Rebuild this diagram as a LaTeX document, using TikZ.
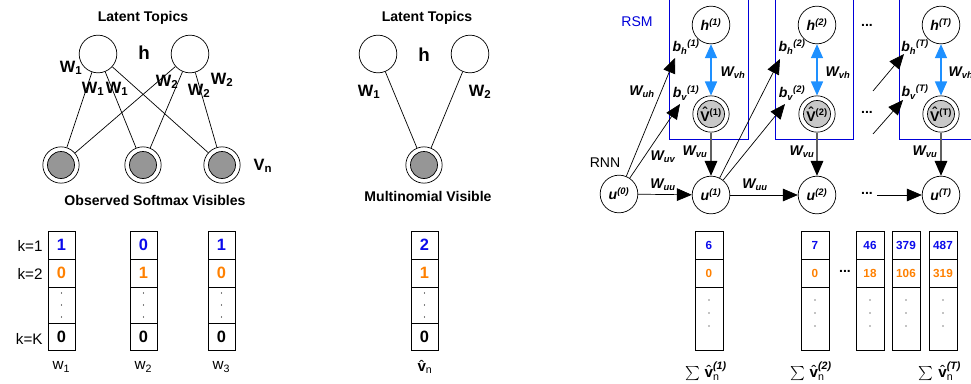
\documentclass[tikz,border=0pt]{standalone}
\usepackage{amsmath}
\usepackage{fontspec}
\setmainfont{Liberation Sans}
\usetikzlibrary{arrows.meta}
\tikzset{>={Triangle[length=4.5mm,width=3.8mm]}}
\definecolor{VisGray}{RGB}{150,150,150}
\definecolor{LightGray}{RGB}{200,200,200}
\definecolor{ArrBlue}{RGB}{30,144,255}
\definecolor{DigOrange}{RGB}{255,128,0}
\definecolor{DigBlue}{RGB}{10,10,235}
\newcommand{\sps}[1]{\textsuperscript{(#1)}}
\newcommand{\Wi}[1]{\textit{W}\textsubscript{\textit{#1}}}
\newcommand{\hatover}[2][0pt]{\setbox0\hbox{#2}\leavevmode\rlap{\hbox to\wd0{\hss\raisebox{#1}{\char"02C6}\hss}}\box0}
\newcommand{\vhat}{\hatover[0.26em]{V}}
\newcommand{\sumv}[1]{$\sum\,\text{\hatover[0.05em]{\bfseries v}}_{\text{n}}^{\text{\bfseries\itshape (#1)}}$}
\tikzset{
  hid/.style={circle,draw,minimum size=11.3mm,inner sep=0pt,line width=0.6pt},
  vis/.style={circle,draw,minimum size=10.9mm,inner sep=0pt,line width=0.6pt,
    path picture={\draw[fill=#1,line width=0.6pt] (path picture bounding box.center) circle (4.05mm);}},
  vis/.default=VisGray,
  rnode/.style={font=\bfseries\itshape\fontsize{12}{14}\selectfont},
  title/.style={font=\bfseries\fontsize{12}{14}\selectfont,inner sep=1pt},
  hbig/.style={font=\bfseries\fontsize{16}{18}\selectfont,inner sep=1pt},
  wlbl/.style={font=\bfseries\fontsize{14}{16}\selectfont,inner sep=1pt},
  ilbl/.style={font=\bfseries\itshape\fontsize{12}{14}\selectfont,inner sep=1pt},
  blbl/.style={font=\bfseries\itshape\fontsize{12}{14}\selectfont,inner sep=1pt},
  link/.style={line width=0.6pt},
  arr/.style={->,line width=0.6pt},
  vh/.style={<->,draw=ArrBlue,line width=1.3pt,>={Triangle[length=4.2mm,width=3.6mm,color=ArrBlue]}},
  vu/.style={-{Triangle[length=4.5mm,width=3.8mm,color=black]},draw=gray!75!black,line width=1pt},
  rsm/.style={draw=blue!85!black,line width=0.8pt},
  cell/.style={line width=0.8pt},
  dig/.style={font=\bfseries\fontsize{14}{16}\selectfont,inner sep=0pt},
  sdig/.style={font=\bfseries\fontsize{10}{12}\selectfont,inner sep=0pt},
  plain/.style={font=\fontsize{13}{15}\selectfont,inner sep=1pt},
  dots/.style={font=\bfseries\fontsize{12}{14}\selectfont,inner sep=0pt}
}
\begin{document}
\begin{tikzpicture}[x=0.3mm,y=-0.3mm]
\useasboundingbox (0,0) rectangle (971,383);
% softmax visibles
\node[title] (lt1) at (143,18) {Latent Topics};
\node[hid] (h11) at (98,54) {};
\node[hid] (h12) at (190,54) {};
\node[hbig] (hl1) at (144,53) {h};
\node[vis] (v11) at (61,165) {};
\node[vis] (v12) at (143,165) {};
\node[vis] (v13) at (222,165) {};
\node[wlbl] (vn) at (263,166) {V\textsubscript{n}};
\node[title] (osv) at (155,200) {Observed Softmax Visibles};
\foreach \v in {v11,v12,v13}{
  \draw[link] (h11) -- (\v);
  \draw[link] (h12) -- (\v);
}
\node[wlbl] at (71,68) {W\textsubscript{1}};
\node[wlbl] at (93,89) {W\textsubscript{1}};
\node[wlbl] at (117,89) {W\textsubscript{1}};
\node[wlbl] at (167,82) {W\textsubscript{2}};
\node[wlbl] at (199,91) {W\textsubscript{2}};
\node[wlbl] at (222,80) {W\textsubscript{2}};

% multinomial visible
\node[title] (lt2) at (427,18) {Latent Topics};
\node[hid] (h21) at (378,54) {};
\node[hid] (h22) at (470,54) {};
\node[hbig] (hl2) at (424,55) {h};
\node[vis] (v21) at (424,165) {};
\node[title] (mv) at (428,196) {Multinomial Visible};
\draw[link] (h21) -- (v21);
\draw[link] (h22) -- (v21);
\node[wlbl] at (369,92) {W\textsubscript{1}};
\node[wlbl] at (480,92) {W\textsubscript{2}};

% RSM boxes
\draw[rsm] (669,-2) |- (748,139) -- (748,-2);
\draw[rsm] (775,-2) |- (853,139) -- (853,-2);
\draw[rsm] (899,-2) |- (980,139);
\node[font=\fontsize{12}{14}\selectfont,text=blue!85!black] (rsm) at (637,22) {RSM};
\node[font=\fontsize{12}{14}\selectfont] (rnn) at (605,163) {RNN};

\node[hid,rnode] (h1) at (711,25) {h\sps{1}};
\node[hid,rnode] (h2) at (817,25) {h\sps{2}};
\node[hid,rnode] (hT) at (941,25) {h\sps{T}};
\node[vis=LightGray,font=\bfseries\fontsize{12}{14}\selectfont] (V1) at (711,114) {\vhat\sps{1}};
\node[vis=LightGray,font=\bfseries\fontsize{12}{14}\selectfont] (V2) at (817,114) {\vhat\sps{2}};
\node[vis=LightGray,font=\bfseries\fontsize{12}{14}\selectfont] (VT) at (941,114) {\vhat\sps{T}};
\node[hid,rnode] (u0) at (619,194) {u\sps{0}};
\node[hid,rnode] (u1) at (711,195) {u\sps{1}};
\node[hid,rnode] (u2) at (817,195) {u\sps{2}};
\node[hid,rnode] (uT) at (941,195) {u\sps{T}};

\node[blbl] (bh1) at (686,47) {b\textsubscript{h}\textsuperscript{(1)}};
\node[blbl] (bv1) at (686,93) {b\textsubscript{v}\textsuperscript{(1)}};
\node[blbl] (bh2) at (792,47) {b\textsubscript{h}\textsuperscript{(2)}};
\node[blbl] (bv2) at (792,93) {b\textsubscript{v}\textsuperscript{(2)}};
\node[blbl] (bhT) at (915,47) {b\textsubscript{h}\textsuperscript{(T)}};
\node[blbl] (bvT) at (915,92) {b\textsubscript{v}\textsuperscript{(T)}};
\coordinate (th1) at (675,58);
\coordinate (tv1) at (680,104);
\coordinate (th2) at (780,59);
\coordinate (tv2) at (785,104);
\coordinate (thT) at (904,54);
\coordinate (tvT) at (903,100);
\coordinate (shT) at (873,91);
\coordinate (svT) at (873,134);
\coordinate (su) at (877,195);

\draw[vh] (h1) -- (V1);
\draw[vh] (h2) -- (V2);
\draw[vh] (hT) -- (VT);
\draw[vu] (V1) -- (u1);
\draw[vu] (V2) -- (u2);
\draw[vu] (VT) -- (uT);
\draw[arr] (u0) -- (th1);
\draw[arr] (u0) -- (tv1);
\draw[arr] (u1) -- (th2);
\draw[arr] (u1) -- (tv2);
\draw[arr] (shT) -- (thT);
\draw[arr] (svT) -- (tvT);
\draw[arr] (u0) -- (u1);
\draw[arr] (u1) -- (u2);
\draw[arr] (su) -- (uT);

\node[ilbl] at (733,73) {\Wi{vh}};
\node[ilbl] at (838,73) {\Wi{vh}};
\node[ilbl] at (961,73) {\Wi{vh}};
\node[ilbl] at (695,152) {\Wi{vu}};
\node[ilbl] at (802,152) {\Wi{vu}};
\node[ilbl] at (925,152) {\Wi{vu}};
\node[ilbl] at (642,92) {\Wi{uh}};
\node[ilbl] at (663,157) {\Wi{uv}};
\node[ilbl] at (663,185) {\Wi{uu}};
\node[ilbl] at (755,185) {\Wi{uu}};
\node[dots] (d1) at (867,25) {...};
\node[dots] (d2) at (867,112) {...};
\node[dots] (d3) at (867,193) {...};

% count vectors
\foreach \x/\a/\b/\i in {48/1/0/1,130/0/1/2,208/1/0/3}{
  \draw[cell] (\x,231) rectangle ++(27,119);
  \foreach \y in {259,287,323} \draw[cell] (\x,\y) -- ++(27,0);
  \node[dig,text=DigBlue] (a\i) at (\x+13.5,245) {\a};
  \node[dig,text=DigOrange] (b\i) at (\x+13.5,273) {\b};
  \node[dig] (c\i) at (\x+13.5,337) {0};
  \foreach \y in {293,305,317} \fill (\x+13.5,\y) circle (0.45pt);
  \node[plain] (w\i) at (\x+13.5,367) {w\textsubscript{\i}};
}
\node[plain,anchor=east] (k1) at (44,246) {k=1};
\node[plain,anchor=east] (k2) at (44,274) {k=2};
\node[plain,anchor=east] (kK) at (44,339) {k=K};

\draw[cell] (411,231) rectangle ++(27,119);
\foreach \y in {259,287,323} \draw[cell] (411,\y) -- ++(27,0);
\node[dig,text=DigBlue] (m1) at (424.5,245) {2};
\node[dig,text=DigOrange] (m2) at (424.5,273) {1};
\node[dig] (m3) at (424.5,337) {0};
\foreach \y in {293,305,317} \fill (424.5,\y) circle (0.45pt);
\node[plain] (vhn) at (425,367) {\hatover[0.05em]{\bfseries v}\textsubscript{n}};

\foreach \x/\a/\b/\i in {695/6/0/1,801/7/0/2,856/46/18/3,892/379/106/4,929/487/319/5}{
  \draw[cell] (\x,231) rectangle ++(28,119);
  \foreach \y in {259,287} \draw[cell] (\x,\y) -- ++(28,0);
  \node[sdig,text=DigBlue] (s\i) at (\x+14,245) {\a};
  \node[sdig,text=DigOrange] (t\i) at (\x+14,273) {\b};
  \foreach \y in {300,313,326} \fill (\x+14,\y) circle (0.45pt);
}
\node[dots] (d4) at (845,271) {...};
\node[plain] (sum1) at (706,371) {\sumv{1}};
\node[plain] (sum2) at (811,371) {\sumv{2}};
\node[plain] (sumT) at (940,371) {\sumv{T}};
\end{tikzpicture}
\end{document}
